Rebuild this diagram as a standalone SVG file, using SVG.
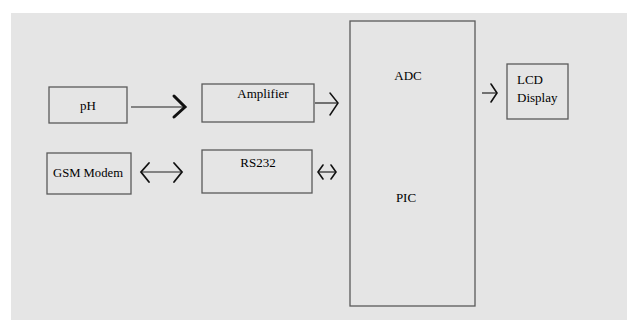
<svg xmlns="http://www.w3.org/2000/svg" width="627" height="320" viewBox="0 0 627 320">
<style>
.box{fill:none;stroke:#5a5a5a;stroke-width:1.3}
.t{font-family:'Liberation Serif','Times New Roman',serif;font-size:13px;fill:#000}
.ln{stroke:#222;stroke-width:1.2;fill:none}
.hd{stroke:#111;fill:none;stroke-linecap:round;stroke-linejoin:miter}
</style>
<rect x="0" y="0" width="627" height="320" fill="#ffffff"/>
<rect x="11" y="13" width="616" height="307" fill="#e5e5e5"/>
<g id="ph"><rect class="box" x="49" y="87" width="78" height="36"/><text class="t" x="88" y="110" text-anchor="middle">pH</text></g>
<g id="amplifier"><rect class="box" x="202" y="84" width="112" height="38"/><text class="t" x="263" y="98" text-anchor="middle" font-size="12.5">Amplifier</text></g>
<g id="gsm"><rect class="box" x="47" y="153" width="84" height="41"/><text class="t" x="88" y="177" text-anchor="middle" textLength="70" lengthAdjust="spacingAndGlyphs">GSM Modem</text></g>
<g id="rs232"><rect class="box" x="202" y="150" width="110" height="43"/><text class="t" x="258" y="167" text-anchor="middle">RS232</text></g>
<g id="pic"><rect class="box" x="350" y="21" width="125" height="285"/><text class="t" x="408" y="80" text-anchor="middle">ADC</text><text class="t" x="406" y="202" text-anchor="middle">PIC</text></g>
<g id="lcd"><rect class="box" x="507" y="64" width="61" height="55"/><text class="t" x="517" y="84">LCD</text><text class="t" x="517" y="102">Display</text></g>
<g id="connectors">
<line class="ln" x1="131" y1="107" x2="184" y2="107"/>
<polyline class="hd" stroke-width="3" points="174,96 185,107 174,117"/>
<line class="ln" x1="315" y1="103" x2="337" y2="103"/>
<polyline class="hd" stroke-width="1.5" points="330,93 338,103 330,115"/>
<line class="ln" x1="141" y1="172" x2="182" y2="172"/>
<polyline class="hd" stroke-width="1.8" points="149,163 141,172 149,182"/>
<polyline class="hd" stroke-width="1.8" points="174,163 182,172 174,182"/>
<line class="ln" x1="318" y1="172" x2="336" y2="172"/>
<polyline class="hd" stroke-width="1.6" points="323,165 318,172 323,179"/>
<polyline class="hd" stroke-width="1.6" points="331,165 336,172 331,179"/>
<line class="ln" x1="482" y1="93" x2="496" y2="93"/>
<polyline class="hd" stroke-width="1.6" points="491,84 497,93 491,102"/>
</g>
</svg>
